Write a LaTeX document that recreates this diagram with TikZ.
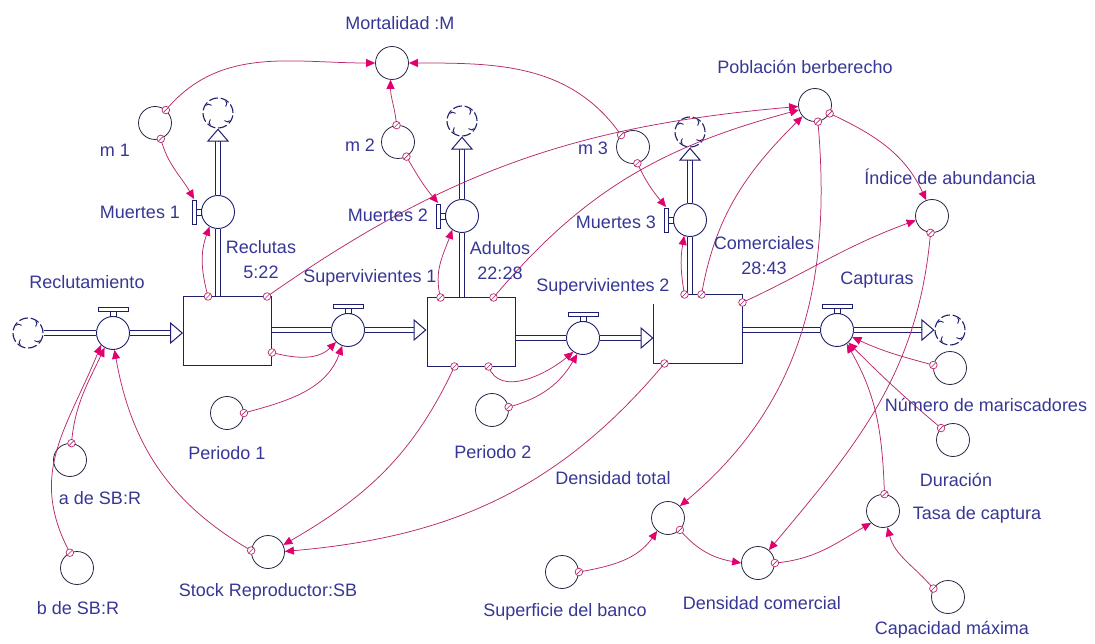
\documentclass[tikz,border=0pt]{standalone}
\usepackage{fontspec}
\setmainfont{Liberation Sans}
\usetikzlibrary{arrows.meta,calc}
\definecolor{navy}{RGB}{30,30,110}
\definecolor{circ}{RGB}{40,40,70}
\definecolor{lbl}{RGB}{55,55,150}
\definecolor{lnk}{RGB}{185,40,110}
\definecolor{tipc}{RGB}{225,0,110}
\newcommand\mylk[3][]{%
  \draw[link] (#2) to[#1] (#3);
  \draw[lnk, line width=0.7pt, fill=white] (#2) circle (3.8pt);
  \draw[lnk, line width=0.6pt] ($(#2)+(-2.4,-2.4)$) -- ($(#2)+(2.4,2.4)$);
}
\newcommand\hhandle[1]{%
  \draw[navy, line width=0.9pt, fill=white] ($(#1.north)+(-3,0)$) rectangle ($(#1.north)+(3,5)$);
  \draw[navy, line width=0.9pt, fill=white] ($(#1.north)+(-15,5)$) rectangle ($(#1.north)+(15,9)$);
}
\newcommand\vhandle[1]{%
  \draw[navy, line width=0.9pt, fill=white] ($(#1.west)+(0,-3)$) rectangle ($(#1.west)+(-5,3)$);
  \draw[navy, line width=0.9pt, fill=white] ($(#1.west)+(-5,-12)$) rectangle ($(#1.west)+(-9,12)$);
  \coordinate (#1h) at ($(#1.west)+(-7,13)$);
}
\begin{document}
\begin{tikzpicture}[x=1pt,y=1pt,
  aux/.style={circle, draw=circ, line width=0.8pt, minimum size=33pt, inner sep=0pt},
  valve/.style={circle, draw=navy, fill=white, line width=0.9pt, minimum size=33pt, inner sep=0pt},
  stock/.style={rectangle, draw=navy, line width=1pt, inner sep=0pt, minimum width=88pt, minimum height=68pt},
  cloudn/.style={circle, draw=navy, line width=1.1pt, minimum size=30pt, inner sep=0pt,
     dash pattern=on 9pt off 2.8pt,
     path picture={\foreach \a in {40,130,220,310}{\draw[navy, solid, line width=0.9pt] (path picture bounding box.center) ++(\a:10pt) arc[start angle=\a-90, end angle=\a+10, radius=3.5pt];}}},
  lab/.style={text=lbl, font=\fontsize{18}{25}\selectfont, inner sep=0pt, align=center},
  pipe/.style={draw=navy, line width=1pt, double=white, double distance=3.5pt},
  flowtip/.style={-{Triangle[length=13pt,width=22pt,fill=white,line width=1pt]}, draw=navy, line width=1pt},
  link/.style={draw=lnk, line width=0.75pt, -{Triangle[length=9pt,width=8pt,color=tipc]}}
]
\useasboundingbox (0,0) rectangle (1095,-644);
\fill[white] (0,0) rectangle (1095,-644);

% ---------- stocks ----------
\node[stock] (sRec) at (227.5,-331) {};
\node[stock] (sAdu) at (471,-332) {};
\node[stock, draw=none] (sCom) at (698,-329) {};
\draw[navy, line width=1pt] ($(sCom.north west)+(0,-10)$) -- (sCom.south west) -- (sCom.south east) -- (sCom.north east) -- ($(sCom.north west)+(29,0)$);

% ---------- valves and clouds ----------
\node[cloudn] (cl0) at (28,-333) {};
\node[valve] (vRec) at (113,-333) {};
\node[valve] (vSup1) at (348,-330) {};
\node[valve] (vSup2) at (583,-338) {};
\node[valve] (vCap) at (837,-330) {};
\node[cloudn] (cl4) at (950,-330) {};
\node[valve] (vM1) at (218,-212) {};
\node[valve] (vM2) at (462,-216) {};
\node[valve] (vM3) at (690,-220) {};
\node[cloudn] (cl1) at (218,-113) {};
\node[cloudn] (cl2) at (462,-121) {};
\node[cloudn] (cl3) at (690,-132) {};
\hhandle{vRec}\hhandle{vSup1}\hhandle{vSup2}\hhandle{vCap}
\vhandle{vM1}\vhandle{vM2}\vhandle{vM3}

% ---------- auxiliaries ----------
\node[aux] (aMort) at (392,-63) {};
\node[aux] (am1) at (155,-123) {};
\node[aux] (am2) at (398,-142) {};
\node[aux] (am3) at (633,-147) {};
\node[aux] (aPob) at (815,-105) {};
\node[aux] (aInd) at (932,-216) {};
\node[aux] (aNum) at (950,-368) {};
\node[aux] (aDur) at (953,-440) {};
\node[aux] (aTasa) at (883,-511) {};
\node[aux] (aCap) at (948,-597) {};
\node[aux] (aDT) at (668,-518) {};
\node[aux] (aDC) at (758,-563) {};
\node[aux] (aSup) at (562,-572) {};
\node[aux] (aP1) at (227,-413) {};
\node[aux] (aP2) at (492,-410) {};
\node[aux] (aA) at (70,-460) {};
\node[aux] (aB) at (77,-568) {};
\node[aux] (aSB) at (268,-552) {};

% ---------- flow pipes ----------
\draw[pipe] (cl0) -- (vRec);
\draw[pipe, shorten >=12pt] (vRec) -- (sRec.west |- vRec);
\draw[flowtip] ($(sRec.west |- vRec)+(-13,0)$) -- (sRec.west |- vRec);
\draw[pipe] (sRec.east |- vSup1) -- (vSup1);
\draw[pipe, shorten >=12pt] (vSup1) -- (sAdu.west |- vSup1);
\draw[flowtip] ($(sAdu.west |- vSup1)+(-13,0)$) -- (sAdu.west |- vSup1);
\draw[pipe] (sAdu.east |- vSup2) -- (vSup2);
\draw[pipe, shorten >=12pt] (vSup2) -- (sCom.west |- vSup2);
\draw[flowtip] ($(sCom.west |- vSup2)+(-13,0)$) -- (sCom.west |- vSup2);
\draw[pipe] (sCom.east |- vCap) -- (vCap);
\draw[pipe, shorten >=12pt] (vCap) -- (cl4);
\draw[flowtip] ($(cl4.west)+(-13,0)$) -- (cl4.west);
\draw[pipe] (sRec.north -| vM1) -- (vM1);
\draw[pipe, shorten >=12pt] (vM1) -- (cl1);
\draw[flowtip] ($(cl1.south)+(0,-13)$) -- (cl1.south);
\draw[pipe] (sAdu.north -| vM2) -- (vM2);
\draw[pipe, shorten >=12pt] (vM2) -- (cl2);
\draw[flowtip] ($(cl2.south)+(0,-13)$) -- (cl2.south);
\draw[pipe] (sCom.north -| vM3) -- (vM3);
\draw[pipe, shorten >=12pt] (vM3) -- (cl3);
\draw[flowtip] ($(cl3.south)+(0,-13)$) -- (cl3.south);

% ---------- link origins on stocks ----------
\coordinate (oR1) at ($(sRec.north west)+(25,0)$);
\coordinate (oR2) at ($(sRec.north east)+(-5,0)$);
\coordinate (oR3) at ($(sRec.south east)+(0,13)$);
\coordinate (oA1) at ($(sAdu.north west)+(14,0)$);
\coordinate (oA2) at ($(sAdu.north east)+(-22,0)$);
\coordinate (oA3) at ($(sAdu.south east)+(-27,0)$);
\coordinate (oA4) at ($(sAdu.south west)+(28,0)$);
\coordinate (oC1) at ($(sCom.north west)+(31,0)$);
\coordinate (oC2) at ($(sCom.north west)+(48,0)$);
\coordinate (oC3) at ($(sCom.north east)+(0,-8)$);
\coordinate (oC4) at ($(sCom.south west)+(11,0)$);

% ---------- links ----------
\mylk[out=50,in=180]{am1.50}{aMort.180}
\mylk[out=95,in=-90]{am2.95}{aMort.-95}
\mylk[out=125,in=0]{am3.135}{aMort.0}
\mylk[out=-75,in=120]{am1.-70}{vM1h}
\mylk[out=-60,in=130]{am2.-60}{vM2h}
\mylk[out=-65,in=130]{am3.-75}{vM3h}
\mylk[out=105,in=-110]{oR1}{vM1.-120}
\mylk[out=105,in=-110]{oA1}{vM2.-125}
\mylk[out=100,in=-100]{oC1}{vM3.-110}
\mylk[out=35,in=185]{oR2}{aPob.185}
\mylk[out=50,in=195]{oA2}{aPob.197}
\mylk[out=80,in=225]{oC2}{aPob.222}
\mylk[out=-15,in=225]{oR3}{vSup1.-135}
\mylk[out=15,in=250]{aP1.0}{vSup1.-110}
\mylk[out=-70,in=220]{oA3}{vSup2.-125}
\mylk[out=15,in=240]{aP2.10}{vSup2.-110}
\mylk[out=-115,in=30]{oA4}{aSB.25}
\mylk[out=-130,in=5]{oC4}{aSB.2}
\mylk[out=150,in=-80]{aSB.175}{vRec.-85}
\mylk[out=85,in=-115]{aA.85}{vRec.-120}
\mylk[out=118,in=-112, looseness=1.1]{aB.115}{vRec.-135}
\mylk[out=25,in=200]{oC3}{aInd.195}
\mylk[out=-25,in=115]{aPob.-30}{aInd.110}
\mylk[out=-85,in=40]{aPob.-80}{aDT.45}
\mylk[out=-95,in=50]{aInd.-95}{aDC.50}
\mylk[out=10,in=235]{aSup.0}{aDT.-130}
\mylk[out=-50,in=170]{aDT.-45}{aDC.180}
\mylk[out=5,in=210]{aDC.0}{aTasa.-135}
\mylk[out=130,in=-75]{aCap.150}{aTasa.-75}
\mylk[out=92,in=-60]{aTasa.85}{vCap.-55}
\mylk[out=165,in=-25]{aNum.170}{vCap.-25}
\mylk[out=140,in=-45]{aDur.135}{vCap.-48}

% ---------- labels ----------
\node[lab] (tMort) at (400,-23) {Mortalidad :M};
\node[lab] (tm1) at (115,-150) {m 1};
\node[lab] (tm2) at (360,-145) {m 2};
\node[lab] (tm3) at (593,-148) {m 3};
\node[lab] (tM1) at (140,-212) {Muertes 1};
\node[lab] (tM2) at (388,-215) {Muertes 2};
\node[lab] (tM3) at (616,-222) {Muertes 3};
\node[lab] (tRec) at (261,-259.5) {Reclutas\\5:22};
\node[lab] (tAdu) at (500,-260.5) {Adultos\\22:28};
\node[lab] (tCom) at (764,-255.5) {Comerciales\\28:43};
\node[lab] (tRecl) at (87,-282) {Reclutamiento};
\node[lab] (tS1) at (370,-278) {Supervivientes 1};
\node[lab] (tS2) at (603,-287) {Supervivientes 2};
\node[lab] (tCap) at (877,-280) {Capturas};
\node[lab] (tPob) at (805,-67) {Población berberecho};
\node[lab] (tInd) at (950,-177) {Índice de abundancia};
\node[lab] (tNum) at (986,-405) {Número de mariscadores};
\node[lab] (tDur) at (956,-480) {Duración};
\node[lab] (tTasa) at (977,-515) {Tasa de captura};
\node[lab] (tCapM) at (952,-630) {Capacidad máxima};
\node[lab] (tDT) at (613,-478) {Densidad total};
\node[lab] (tDC) at (762,-603) {Densidad comercial};
\node[lab] (tSup) at (565,-612) {Superficie del banco};
\node[lab] (tP1) at (227,-453) {Periodo 1};
\node[lab] (tP2) at (493,-452) {Periodo 2};
\node[lab] (tA) at (100,-498) {a de SB:R};
\node[lab] (tB) at (78,-608) {b de SB:R};
\node[lab] (tSB) at (268,-592) {Stock Reproductor:SB};
\end{tikzpicture}
\end{document}
